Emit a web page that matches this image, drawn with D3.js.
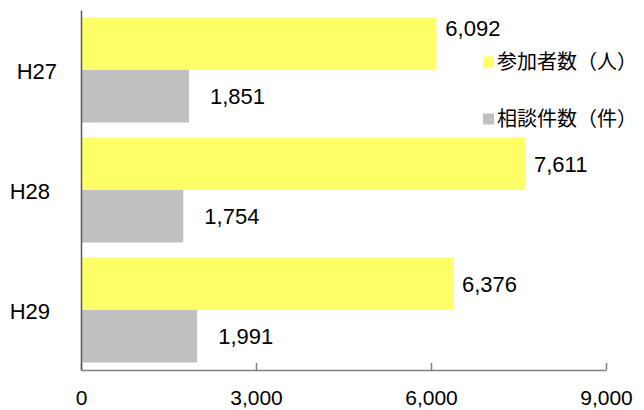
<!DOCTYPE html>
<html>
<head>
<meta charset="utf-8">
<script src="https://cdn.jsdelivr.net/npm/d3@7"></script>
<style>
  body { margin: 0; background: #fff; }
  svg { display: block; }
  text { font-family: "Liberation Sans", Arial, sans-serif; fill: #000; }
  .legend text { font-family: "Noto Sans CJK JP", sans-serif; }
</style>
</head>
<body>
<div id="chart"></div>
<script>
// data
const categories = ["H27", "H28", "H29"];
const seriesNames = ["参加者数（人）", "相談件数（件）"];
const participants = [6092, 7611, 6376];
const consultations = [1851, 1754, 1991];
const xTicks = [0, 3000, 6000, 9000];

const colors = ["#ffff66", "#c0c0c0"];

const width = 644, height = 410;
const plotLeft = 81, plotRight = 606, plotTop = 10, plotBottom = 370;

const svg = d3.select("#chart").append("svg")
  .attr("width", width)
  .attr("height", height);

const x = d3.scaleLinear().domain([0, 9000]).range([plotLeft, plotRight]);

const y = d3.scaleBand()
  .domain(categories)
  .range([plotTop, plotBottom])
  .paddingInner(0.125)
  .paddingOuter(0.0625);

const ySub = d3.scaleBand()
  .domain([0, 1])
  .range([0, y.bandwidth()]);

const rows = categories.map((c, i) => ({
  cat: c,
  values: [participants[i], consultations[i]]
}));

const fmt = d3.format(",");

// bars
const groups = svg.selectAll("g.row")
  .data(rows)
  .enter()
  .append("g")
  .attr("class", "row")
  .attr("transform", d => "translate(0," + y(d.cat) + ")");

groups.selectAll("rect")
  .data(d => d.values)
  .enter()
  .append("rect")
  .attr("x", x(0))
  .attr("y", (d, j) => ySub(j))
  .attr("width", d => x(d) - x(0))
  .attr("height", ySub.bandwidth())
  .attr("fill", (d, j) => colors[j]);

// value labels (first one sits higher, as in the original)
groups.selectAll("text.val")
  .data((d, i) => d.values.map((v, j) => ({ v, j, i })))
  .enter()
  .append("text")
  .attr("class", "val")
  .attr("x", d => x(d.v) + (d.j === 0 ? 9 : 21))
  .attr("y", d => ySub(d.j) + ySub.bandwidth() / 2 - (d.i === 0 && d.j === 0 ? 16 : 0))
  .attr("dy", "0.36em")
  .style("font-size", "22px")
  .text(d => fmt(d.v));

// x axis (ticks point up into the plot)
const xAxis = d3.axisBottom(x)
  .tickValues(xTicks)
  .tickSizeInner(-7)
  .tickSizeOuter(0)
  .tickFormat(fmt);

const gx = svg.append("g")
  .attr("transform", "translate(0," + plotBottom + ")")
  .call(xAxis);
gx.select(".domain").attr("stroke", "#7f7f7f").attr("stroke-width", 1.5);
gx.selectAll(".tick line").attr("stroke", "#7f7f7f").attr("stroke-width", 1.5);
gx.selectAll(".tick text")
  .attr("y", 0)
  .attr("dy", 0)
  .attr("transform", "translate(0,35)")
  .style("font-size", "21px")
  .style("font-family", "Liberation Sans, Arial, sans-serif")
  .attr("fill", "#000");

// y axis line and category labels
const yAxis = d3.axisLeft(y).tickSize(0).tickPadding(31);
const gy = svg.append("g")
  .attr("transform", "translate(" + plotLeft + ",0)")
  .call(yAxis);
gy.select(".domain").attr("stroke", "#595959").attr("stroke-width", 1.5);
gy.selectAll(".tick text")
  .attr("dy", "0.36em")
  .attr("dx", (d, i) => (i === 0 ? 7 : 0))
  .attr("y", (d, i) => (i === 0 ? 1.5 : 1.5))
  .style("font-size", "22px")
  .style("font-family", "Liberation Sans, Arial, sans-serif")
  .attr("fill", "#000");

// legend
const legend = svg.append("g").attr("class", "legend");
const legendY = [62, 119];
seriesNames.forEach((name, j) => {
  legend.append("rect")
    .attr("x", 483)
    .attr("y", legendY[j] - 5.5)
    .attr("width", 11)
    .attr("height", 11)
    .attr("fill", colors[j]);
  legend.append("text")
    .attr("x", 497)
    .attr("y", legendY[j])
    .attr("dy", "0.36em")
    .style("font-size", "20px")
    .text(name);
});
</script>
</body>
</html>
